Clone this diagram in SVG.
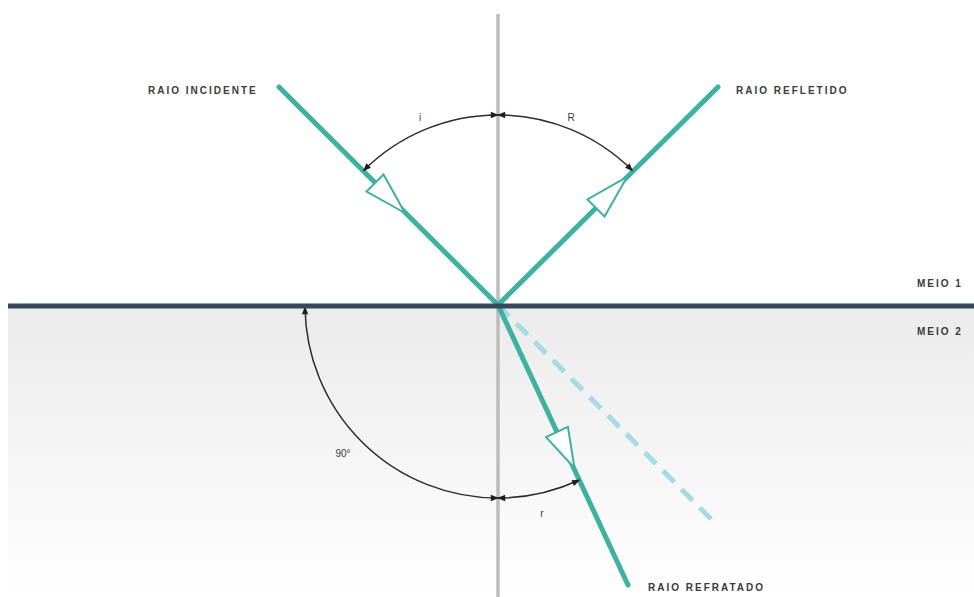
<svg xmlns="http://www.w3.org/2000/svg" width="974" height="597" viewBox="0 0 974 597">
<style>
.lbl{font-family:"Liberation Sans",Arial,sans-serif;font-size:10px;font-weight:bold;fill:#3a3a3a;letter-spacing:2px}
.ang{font-family:"Liberation Sans",Arial,sans-serif;font-size:10px;fill:#3a3a3a}
.ray{stroke:#3fb1a1;stroke-width:5;stroke-linecap:round;fill:none}
.tri{fill:#ffffff;stroke:#3fb1a1;stroke-width:2;stroke-linejoin:miter}
.arc{fill:none;stroke:#2b2b2b;stroke-width:1.5;marker-start:url(#ah);marker-end:url(#ah)}
</style>
<defs>
<linearGradient id="bg2" x1="0" y1="0" x2="0" y2="1">
<stop offset="0" stop-color="#ebebeb"/>
<stop offset="1" stop-color="#ffffff"/>
</linearGradient>
<marker id="ah" viewBox="0 0 10 10" refX="9" refY="5" markerWidth="10" markerHeight="8" markerUnits="userSpaceOnUse" orient="auto-start-reverse">
<path d="M0,1 L10,5 L0,9 z" fill="#1e1e1e"/>
</marker>
</defs>
<rect x="0" y="0" width="974" height="597" fill="#ffffff"/>
<rect id="meio2" x="8" y="306" width="966" height="291" fill="url(#bg2)"/>
<g id="normal">
<line x1="498" y1="14" x2="498" y2="597" stroke="#bcbcbc" stroke-width="3.5"/>
</g>
<g id="connectors">
<line id="dashed" x1="498" y1="305" x2="716" y2="524" stroke="#a9d9e2" stroke-width="5" stroke-dasharray="16 10"/>
<line id="incidente" class="ray" x1="279" y1="87" x2="498" y2="305"/>
<line id="refletido" class="ray" x1="498" y1="305" x2="718" y2="87"/>
<line id="refratado" class="ray" x1="498" y1="305" x2="628" y2="585"/>
<polygon class="tri" points="383.5,174.5 366.5,191.5 405,213"/>
<polygon class="tri" points="604.5,216.5 587.5,199.5 627,177"/>
<polygon class="tri" points="567.9,426.9 546.1,437.1 574.5,468"/>
<path class="arc" d="M498,115 A190,190 0 0 0 363.6,170.6"/>
<path class="arc" d="M498,115 A190,190 0 0 1 632.4,170.6"/>
<path class="arc" d="M305,307 A193,193 0 0 0 498,498"/>
<path class="arc" d="M498,498 A193,193 0 0 0 579.3,480"/>
</g>
<g id="interface">
<line x1="8" y1="306" x2="974" y2="306" stroke="#37485a" stroke-width="5"/>
</g>
<g id="labels">
<text class="lbl" x="148" y="94">RAIO INCIDENTE</text>
<text class="lbl" x="736" y="94">RAIO REFLETIDO</text>
<text class="lbl" x="648" y="591">RAIO REFRATADO</text>
<text class="lbl" x="917" y="287">MEIO 1</text>
<text class="lbl" x="917" y="335">MEIO 2</text>
<text class="ang" x="420" y="121" text-anchor="middle">i</text>
<text class="ang" x="571" y="121" text-anchor="middle">R</text>
<text class="ang" x="343" y="457" text-anchor="middle">90°</text>
<text class="ang" x="542" y="517" text-anchor="middle">r</text>
</g>
</svg>
